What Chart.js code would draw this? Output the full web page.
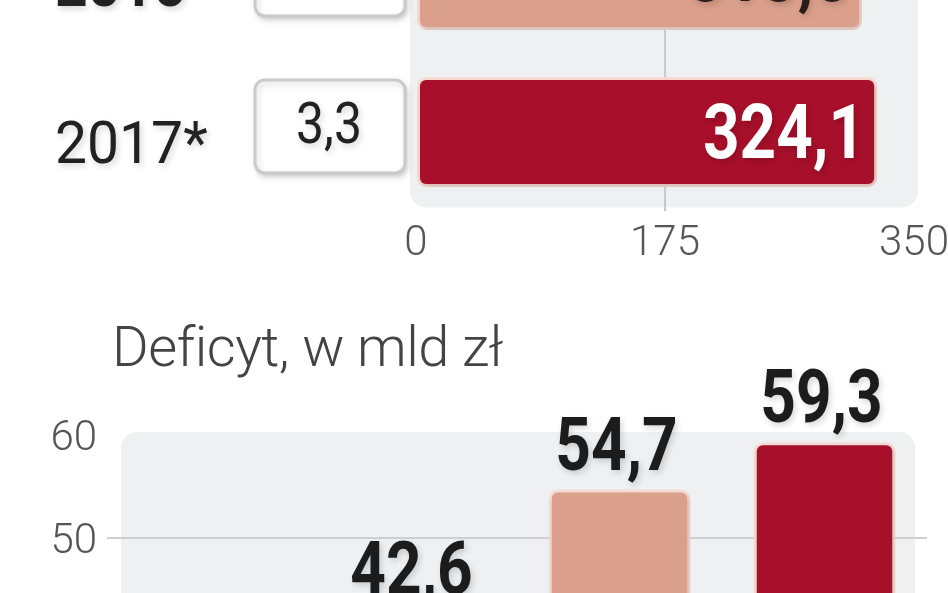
<!DOCTYPE html>
<html>
<head>
<meta charset="utf-8">
<script src="https://cdn.jsdelivr.net/npm/chart.js@4.4.1/dist/chart.umd.min.js"></script>
<style>
  html, body { margin:0; padding:0; background:#fff; }
  body { width:948px; height:593px; overflow:hidden; position:relative; }
  canvas { position:absolute; left:0; }
  #rev { top:-140px; }
  #def { top:300px; }
  .title {
    position:absolute; left:112px; top:319px; margin:0;
    font-family:Roboto, sans-serif; font-weight:300; font-size:56px; line-height:56px;
    color:#444; white-space:nowrap; letter-spacing:-0.5px;
  }
</style>
</head>
<body>
<canvas id="rev" width="1000" height="420"></canvas>
<div class="title">Deficyt, w mld zł</div>
<canvas id="def" width="948" height="800"></canvas>
<script>
// Data
const years        = ["2016", "2017*"];
const revenue      = [313.5, 324.1];
const boxValues    = [null, "3,3"];          // 2016 box text is cut off in the picture
const revenueTicks = [0, 175, 350];

const deficitYears = ["2014", "2015", "2016", "2017*"];
const deficit      = [29.0, 42.6, 54.7, 59.3];
const deficitTicks = [0, 10, 20, 30, 40, 50, 60];

// Look
const RED      = "#a80f2a";
const SALMON   = "#dba08b";
const PANEL    = "#eef0f2";
const OUTLINE  = "#fadcd4";
const fmt = v => v.toFixed(1).replace(".", ",");

function roundRect(ctx, x, y, w, h, r){
    ctx.beginPath();
    ctx.roundRect(x, y, w, h, r);
}

// condensed look: squeeze text horizontally around its anchor
function narrowText(ctx, text, x, y, sx){
    ctx.save();
    ctx.translate(x, y);
    ctx.scale(sx, 1);
    ctx.fillText(text, 0, 0);
    ctx.restore();
}

const shadow = {
    id:"shadow",
    beforeDatasetsDraw(chart){
        const ctx = chart.ctx;
        ctx.save();
        ctx.shadowColor = "rgba(0,0,0,0.16)";
        ctx.shadowBlur = 6; ctx.shadowOffsetX = 2; ctx.shadowOffsetY = 3;
    },
    afterDatasetsDraw(chart){ chart.ctx.restore(); }
};

// Top: revenue rows
const revDecor = {
    id:"revDecor",
    beforeDraw(chart){
        const {ctx, chartArea:a} = chart;
        ctx.save();
        ctx.fillStyle = PANEL;
        roundRect(ctx, a.left - 6, a.top - 40, (a.right + 4) - (a.left - 6), a.bottom - 3 - (a.top - 40), 16);
        ctx.fill();
        ctx.restore();
    },
    afterDatasetsDraw(chart){
        const ctx = chart.ctx;
        const y = chart.scales.y;
        const bars = chart.getDatasetMeta(0).data;
        ctx.save();
        years.forEach((yr, i) => {
            const cy = y.getPixelForValue(i);
            // year label
            ctx.fillStyle = "#222";
            ctx.font = `${i === 0 ? 700 : 400} 60px Roboto`;
            ctx.textAlign = "left"; ctx.textBaseline = "alphabetic";
            narrowText(ctx, yr, 55, cy + 31, 0.95);

            // white box
            ctx.save();
            ctx.shadowColor = "rgba(0,0,0,0.18)"; ctx.shadowBlur = 4; ctx.shadowOffsetY = 3;
            ctx.fillStyle = "#fff";
            roundRect(ctx, 255, cy - 52, 150, 93, 10);
            ctx.fill();
            ctx.restore();
            ctx.strokeStyle = "#cacaca"; ctx.lineWidth = 3;
            roundRect(ctx, 255, cy - 52, 150, 93, 10);
            ctx.stroke();
            if (boxValues[i]){
                ctx.fillStyle = "#222";
                ctx.font = "400 58px Roboto";
                ctx.textAlign = "center";
                narrowText(ctx, boxValues[i], 329, cy + 11, 0.86);
            }

            // value inside bar
            const b = bars[i];
            ctx.fillStyle = i === years.length - 1 ? "#fff" : "#2b1d18";
            ctx.font = "700 76px Roboto";
            ctx.textAlign = "right";
            narrowText(ctx, fmt(revenue[i]), b.x - 12, b.y + 26, 0.84);
        });
        ctx.restore();
    }
};

new Chart(document.getElementById("rev"), {
    type:"bar",
    data:{
        labels: years,
        datasets:[{
            data: revenue,
            backgroundColor: [SALMON, RED],
            borderColor: OUTLINE, borderWidth:3, borderRadius:9, borderSkipped:false,
            barPercentage:0.7, categoryPercentage:1
        }]
    },
    options:{
        indexAxis:"y",
        responsive:false, animation:false,
        layout:{ padding:{ top:36.5, left:416, right:86, bottom:0 } },
        plugins:{ legend:{ display:false }, tooltip:{ enabled:false } },
        scales:{
            x:{
                min:0, max:350,
                afterBuildTicks: s => { s.ticks = revenueTicks.map(v => ({ value:v })); },
                afterFit: s => { s.height = 69.5; },
                ticks:{ font:{ family:"Roboto", weight:300, size:42 }, color:"#555", padding:9, autoSkip:false, maxRotation:0 },
                grid:{ drawTicks:false, lineWidth:2, color: c => (c.tick && c.tick.value === 175) ? "#c6c9cd" : "transparent" },
                border:{ display:false }
            },
            y:{ display:false }
        }
    },
    plugins:[revDecor, shadow]
});

// Bottom: deficit columns
const defDecor = {
    id:"defDecor",
    beforeDraw(chart){
        const {ctx, chartArea:a} = chart;
        ctx.save();
        ctx.fillStyle = PANEL;
        roundRect(ctx, a.left + 14, a.top - 3, (a.right - 12) - (a.left + 14), a.bottom - a.top + 3, 16);
        ctx.fill();
        ctx.restore();
    },
    afterDatasetsDraw(chart){
        const ctx = chart.ctx;
        const bars = chart.getDatasetMeta(0).data;
        ctx.save();
        ctx.fillStyle = "#1c1c1c";
        ctx.font = "700 74px Roboto";
        ctx.textAlign = "center"; ctx.textBaseline = "alphabetic";
        bars.forEach((b, i) => narrowText(ctx, fmt(deficit[i]), b.x - 3, b.y - 20, 0.84));
        ctx.restore();
    }
};

new Chart(document.getElementById("def"), {
    type:"bar",
    data:{
        labels: deficitYears,
        datasets:[{
            data: deficit,
            backgroundColor: ["#bdbdbd", "#bdbdbd", SALMON, RED],
            borderColor: OUTLINE, borderWidth:3, borderRadius:9, borderSkipped:false,
            barPercentage:0.69, categoryPercentage:1
        }]
    },
    options:{
        responsive:false, animation:false,
        layout:{ padding:{ top:135, bottom:47, left:0, right:21 } },
        plugins:{ legend:{ display:false }, tooltip:{ enabled:false } },
        scales:{
            x:{ display:false },
            y:{
                min:0, max:60,
                afterBuildTicks: s => { s.ticks = deficitTicks.map(v => ({ value:v })); },
                afterFit: s => { s.width = 107; },
                ticks:{ font:{ family:"Roboto", weight:300, size:42 }, color:"#555", padding:10, labelOffset:4 },
                grid:{ drawTicks:false, lineWidth:2, color: c => (c.tick && c.tick.value === 50) ? "#cfcfcf" : "transparent" },
                border:{ display:false }
            }
        }
    },
    plugins:[defDecor, shadow]
});
</script>
</body>
</html>
